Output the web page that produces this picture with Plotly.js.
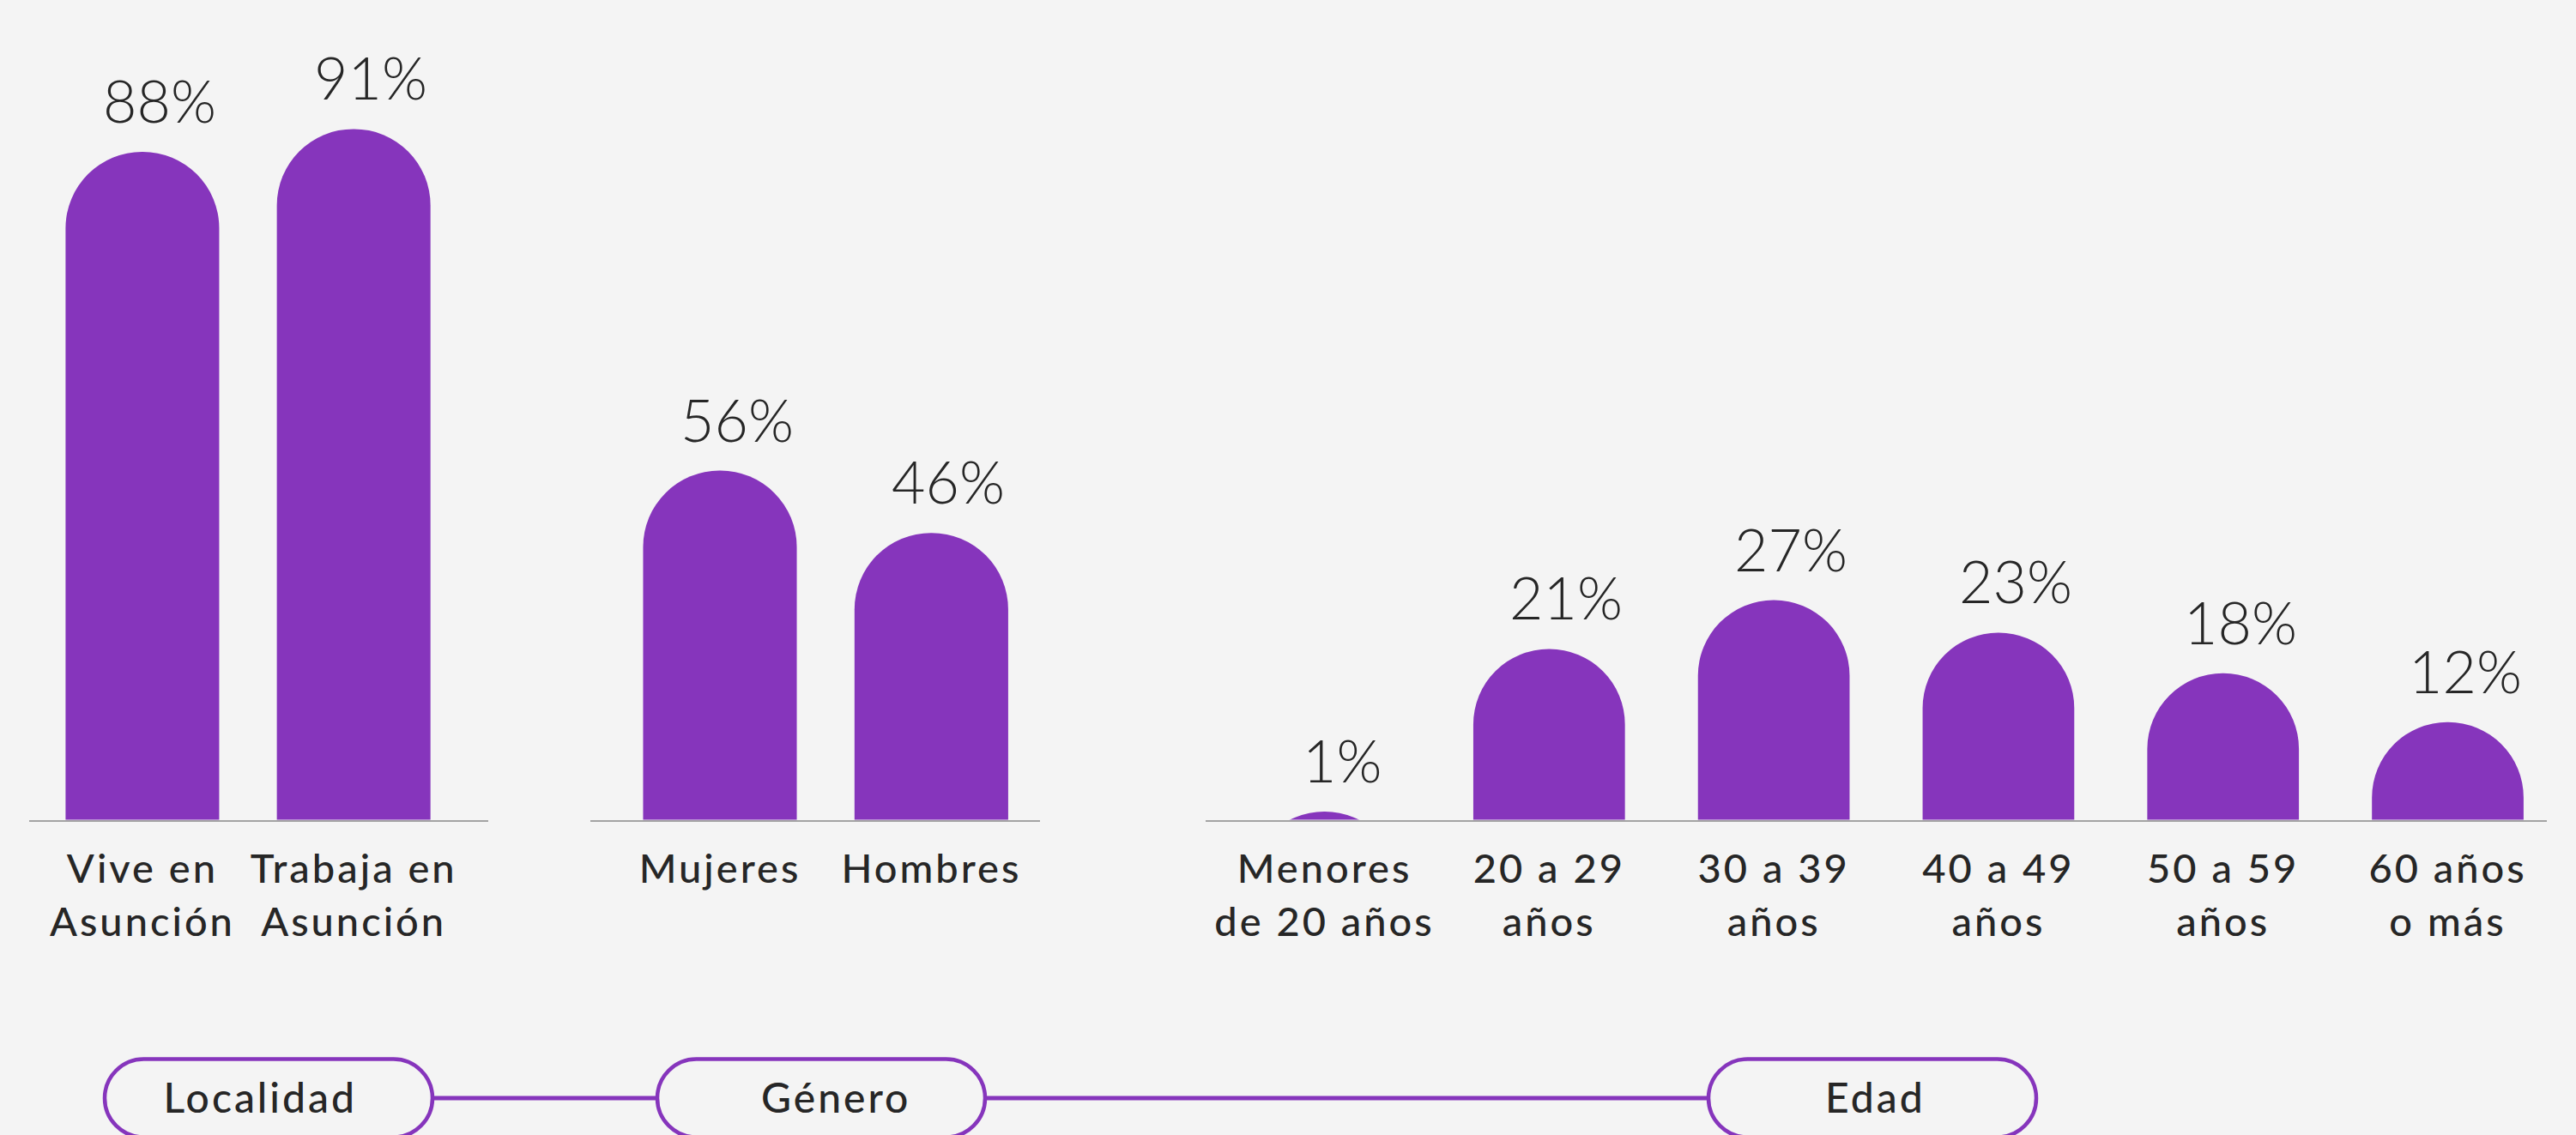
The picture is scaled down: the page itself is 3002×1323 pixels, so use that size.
<!DOCTYPE html>
<html>
<head>
<meta charset="utf-8">
<script src="https://cdn.plot.ly/plotly-3.0.1.min.js"></script>
<style>
html, body { margin: 0; padding: 0; background: #f4f4f4; }
#chart { width: 3002px; height: 1323px; }
#chart .xtick text, #chart .x2tick text, #chart .x3tick text { letter-spacing: 3px; }
</style>
</head>
<body>
<div id="chart"></div>
<script>
// ---- data ----
const localidadCats = ['Vive en<br>Asunción', 'Trabaja en<br>Asunción'];
const localidadVals = [88, 91];
const generoCats = ['Mujeres', 'Hombres'];
const generoVals = [56, 46];
const edadCats = ['Menores<br>de 20 años', '20 a 29<br>años', '30 a 39<br>años', '40 a 49<br>años', '50 a 59<br>años', '60 años<br>o más'];
const edadVals = [1, 21, 27, 23, 18, 12];
const groupNames = ['Localidad', 'Género', 'Edad'];

// ---- style / layout constants ----
const W = 3002, H = 1323;
const PURPLE = '#8635bc';
const BG = '#f4f4f4';
const TXT = '#262626';
const AXIS = '#a3a3a3';
const yDomain = [1 - 955.5 / H, 1];
// bars start below the (clipped) axis so that every rounded top is a true circle cap
const HIDDEN_BASE = 30;

const groups = [
  { cats: localidadCats, vals: localidadVals, xd: [33.7 / W, 569 / W], xr: [-0.537, 1.637], ymax: 108.0, bw: 0.727, pill: 313, pillShift: -10 },
  { cats: generoCats, vals: generoVals, xd: [687.5 / W, 1212 / W], xr: [-0.615, 1.514], ymax: 131.5, bw: 0.727, pill: 957, pillShift: 17 },
  { cats: edadCats, vals: edadVals, xd: [1405 / W, 2968 / W], xr: [-0.529, 5.441], ymax: 100.8, bw: 0.675, pill: 2182, pillShift: 3 }
];

const traces = [];
const annotations = [];
const layout = {
  width: W, height: H,
  margin: { l: 0, r: 0, t: 0, b: 0, pad: 0 },
  paper_bgcolor: BG, plot_bgcolor: BG,
  showlegend: false,
  font: { family: 'Lato, sans-serif', color: TXT },
  shapes: []
};

groups.forEach((g, i) => {
  const sfx = i === 0 ? '' : String(i + 1);
  const xName = 'x' + sfx, yName = 'y' + sfx;
  traces.push({
    type: 'bar',
    x: g.cats,
    y: g.vals.map(v => v + HIDDEN_BASE),
    base: -HIDDEN_BASE,
    xaxis: xName, yaxis: yName,
    width: g.bw,
    cliponaxis: true,
    marker: { color: PURPLE, cornerradius: '50%', line: { width: 0 } },
    hoverinfo: 'skip'
  });
  layout['xaxis' + sfx] = {
    domain: g.xd, anchor: yName, range: g.xr, type: 'category',
    categoryorder: 'array', categoryarray: g.cats,
    showline: true, linecolor: AXIS, linewidth: 2.5,
    ticks: '', showgrid: false, zeroline: false, automargin: false,
    ticklabelstandoff: 15,
    tickfont: { family: 'Lato, sans-serif', size: 47, weight: 500, color: TXT },
    fixedrange: true
  };
  layout['yaxis' + sfx] = {
    domain: yDomain, anchor: xName, range: [0, g.ymax],
    visible: false, showgrid: false, zeroline: false, fixedrange: true
  };
  g.cats.forEach((c, j) => {
    annotations.push({
      x: c, y: g.vals[j], xref: xName, yref: yName,
      text: g.vals[j] + '%', showarrow: false,
      xanchor: 'center', yanchor: 'bottom', xshift: 20, yshift: 18,
      font: { family: 'Lato, sans-serif', size: 68, weight: 300, color: TXT }
    });
  });
});

// bottom group pills connected by a line
const pillY = 1 - 1280 / H;
function pillPath(hw, hh) {
  const k = 0.5523 * hh, a = hw - hh;
  return `M ${-a},${hh} L ${a},${hh} C ${a + k},${hh} ${hw},${k} ${hw},0 ` +
         `C ${hw},${-k} ${a + k},${-hh} ${a},${-hh} L ${-a},${-hh} ` +
         `C ${-a - k},${-hh} ${-hw},${-k} ${-hw},0 C ${-hw},${k} ${-a - k},${hh} ${-a},${hh} Z`;
}
layout.shapes.push({
  type: 'line', xref: 'paper', yref: 'paper',
  x0: groups[0].pill / W, x1: groups[groups.length - 1].pill / W, y0: pillY, y1: pillY,
  line: { color: PURPLE, width: 5 }
});
groups.forEach((g, i) => {
  layout.shapes.push({
    type: 'path', xref: 'paper', yref: 'paper',
    xsizemode: 'pixel', ysizemode: 'pixel',
    xanchor: g.pill / W, yanchor: pillY,
    path: pillPath(191, 45.5),
    line: { color: PURPLE, width: 4.5 }, fillcolor: BG
  });
  annotations.push({
    x: g.pill / W, y: 1 - 1278 / H, xref: 'paper', yref: 'paper',
    xshift: g.pillShift,
    text: groupNames[i], showarrow: false, xanchor: 'center', yanchor: 'middle',
    font: { family: 'Lato, sans-serif', size: 48, weight: 500, color: TXT }
  });
});
layout.annotations = annotations;

Plotly.newPlot('chart', traces, layout, { staticPlot: true, displayModeBar: false }).then(gd => {
  // widen pill labels slightly like the reference typeface
  const n = annotations.length;
  const nodes = gd.querySelectorAll('.annotation-text');
  for (let i = n - groupNames.length; i < n; i++) {
    if (nodes[i]) nodes[i].style.letterSpacing = '3px';
  }
});
</script>
</body>
</html>
